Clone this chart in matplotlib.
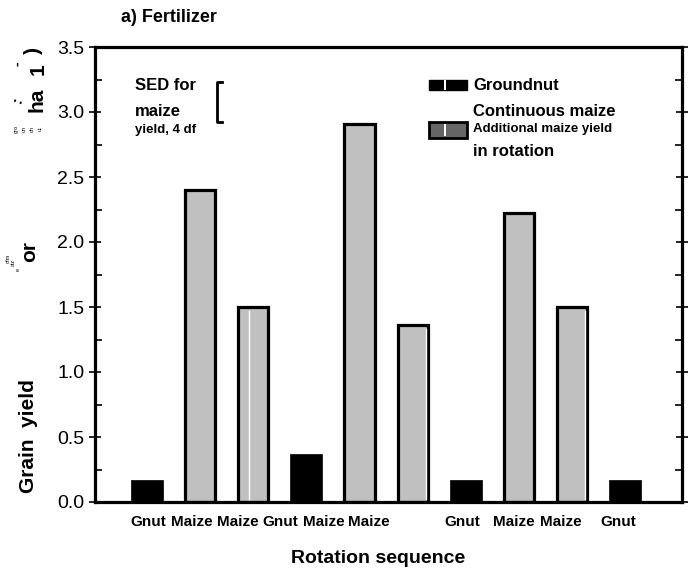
import matplotlib.pyplot as plt
from matplotlib.patches import Rectangle
from matplotlib.ticker import MultipleLocator

plt.rcParams['font.family'] = ['Liberation Sans', 'DejaVu Sans']

# rotation sequence and grain yields (t/ha)
crops = ['Gnut', 'Maize', 'Maize', 'Gnut', 'Maize', 'Maize', 'Gnut', 'Maize', 'Maize', 'Gnut']
yields = [0.17, 2.40, 1.50, 0.37, 2.91, 1.36, 0.17, 2.22, 1.50, 0.17]
label_pos = [0.03, 0.84, 1.70, 2.51, 3.32, 4.18, 5.93, 6.91, 7.78, 8.87]
sed = 0.31
sed_top = 3.23

W, H = 691, 571


def fx(px):
    return px / W


def fy(py):
    return 1 - py / H


fig = plt.figure(figsize=(6.91, 5.71), dpi=100)
ax = fig.add_axes([fx(95), fy(502), fx(682) - fx(95), fy(47) - fy(502)])

for i, (c, v) in enumerate(zip(crops, yields)):
    if c == 'Gnut':
        ax.bar(i, v, width=0.6, color='black', edgecolor='black', linewidth=0.5)
    else:
        ax.bar(i, v, width=0.57, color='#c0c0c0', edgecolor='black', linewidth=2.3)

# small white lines inside some maize bars
for i, off in [(2, -0.08), (5, 0.25), (8, 0.25)]:
    ax.plot([i + off, i + off], [0.02, yields[i] - 0.03], color='white', lw=1)

ax.set_xlim(-0.98, 10.07)
ax.set_ylim(0, 3.5)
ax.yaxis.set_minor_locator(MultipleLocator(0.25))
ax.set_yticks([0, 0.5, 1.0, 1.5, 2.0, 2.5, 3.0, 3.5])
ax.set_yticklabels(['0.0', '0.5', '1.0', '1.5', '2.0', '2.5', '3.0', '3.5'], fontsize=14)
ax.tick_params(axis='y', which='major', direction='inout', length=9, width=1.2,
               right=True, pad=3)
ax.tick_params(axis='y', which='minor', direction='in', length=5, width=1.2, right=True)
ax.set_xticks(label_pos)
ax.set_xticklabels(crops, fontsize=11, fontweight='bold')
ax.tick_params(axis='x', length=0, pad=9)
for s in ax.spines.values():
    s.set_linewidth(2.3)

ax.set_xlabel('Rotation sequence', fontsize=14, fontweight='bold')
ax.xaxis.set_label_coords(0.482, -0.105)

# SED bracket
bx = 1.32
ax.plot([bx + 0.1, bx, bx, bx + 0.1], [sed_top, sed_top, sed_top - sed, sed_top - sed],
        color='black', lw=2)
fig.text(fx(135), fy(86), 'SED for', fontsize=12, fontweight='bold', va='center')
fig.text(fx(135), fy(112), 'maize', fontsize=12, fontweight='bold', va='center')
fig.text(fx(135), fy(130), 'yield, 4 df', fontsize=9.5, fontweight='bold', va='center')

# legend
fig.add_artist(Rectangle((fx(429), fy(90)), fx(467) - fx(429), fy(80) - fy(90),
                         transform=fig.transFigure, facecolor='black', edgecolor='black'))
fig.add_artist(Rectangle((fx(444), fy(90)), fx(446) - fx(444), fy(80) - fy(90),
                         transform=fig.transFigure, facecolor='white', edgecolor='none'))
fig.add_artist(Rectangle((fx(429), fy(138)), fx(467) - fx(429), fy(122) - fy(138),
                         transform=fig.transFigure, facecolor='#666666', edgecolor='black',
                         linewidth=2))
fig.add_artist(Rectangle((fx(444.5), fy(136)), fx(446) - fx(444.5), fy(124) - fy(136),
                         transform=fig.transFigure, facecolor='white', edgecolor='none'))
fig.text(fx(473), fy(85), 'Groundnut', fontsize=12, fontweight='bold', va='center')
fig.text(fx(473), fy(112), 'Continuous maize', fontsize=12, fontweight='bold', va='center')
fig.text(fx(473), fy(129), 'Additional maize yield', fontsize=9.5, fontweight='bold', va='center')
fig.text(fx(473), fy(152), 'in rotation', fontsize=12, fontweight='bold', va='center')

# title
fig.text(fx(121), fy(18), 'a) Fertilizer', fontsize=13, fontweight='bold', va='center')

# broken y-axis label pieces
fig.text(fx(29), fy(436), 'Grain  yield', fontsize=15, fontweight='bold', rotation=90,
         ha='center', va='center')
fig.text(fx(30), fy(252), 'or', fontsize=15, fontweight='bold', rotation=90,
         ha='center', va='center')
fig.text(fx(37), fy(100), 'ha', fontsize=15, fontweight='bold', rotation=90,
         ha='center', va='center')
fig.text(fx(38), fy(69), '1', fontsize=15, fontweight='bold', rotation=90,
         ha='center', va='center')
fig.text(fx(33), fy(50), ')', fontsize=15, fontweight='bold', rotation=90,
         ha='center', va='center')
fig.text(fx(17), fy(64), '-', fontsize=10, fontweight='bold', rotation=90,
         ha='center', va='center')
fig.text(fx(18), fy(100), ':', fontsize=11, fontweight='bold', rotation=70,
         ha='center', va='center')
for x, t in [(16, 'gro'), (24, 'un'), (32, 'dn'), (40, 'ut')]:
    fig.text(fx(x), fy(129), t, fontsize=4, rotation=90, ha='center', va='center')
for x, y, t in [(8, 258, 'ofm'), (13, 262, 'aiz'), (18, 270, 'e')]:
    fig.text(fx(x), fy(y), t, fontsize=4, rotation=90, ha='center', va='center')

fig.savefig('out.png', dpi=100)
